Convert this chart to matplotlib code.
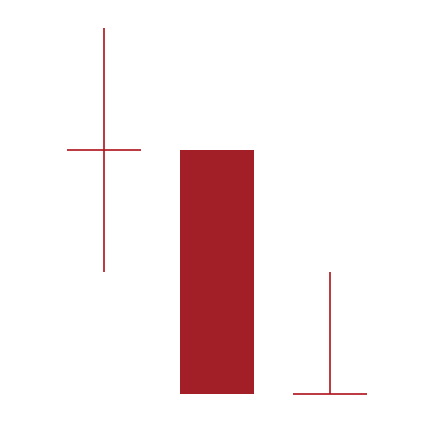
import matplotlib
matplotlib.use("Agg")
import matplotlib.pyplot as plt
from matplotlib.patches import Rectangle

# Данные свечей
positions = [1, 2, 3]
opens = [3, 3, 1]
highs = [4, 3, 2]
lows = [2, 1, 1]
closes = [3, 1, 1]

body_color = '#A31F28'
line_color = '#B0141E'
width = 0.66

fig = plt.figure(figsize=(4.34, 4.22), dpi=100)
ax = fig.add_axes([0, 0, 1, 1])

for x, o, h, l, c in zip(positions, opens, highs, lows, closes):
    # тень
    if h > max(o, c):
        ax.plot([x, x], [max(o, c), h], color=line_color, lw=1.2, solid_capstyle='butt')
    if l < min(o, c):
        ax.plot([x, x], [l, min(o, c)], color=line_color, lw=1.2, solid_capstyle='butt')
    if o == c:
        ax.plot([x - width / 2, x + width / 2], [o, c], color=line_color, lw=1.2, solid_capstyle='butt')
    else:
        ax.add_patch(Rectangle((x - width / 2, min(o, c)), width, abs(o - c),
                               facecolor=body_color, edgecolor='none'))

ax.set_xlim(1 - 104 / 113, 1 + 330 / 113)
ax.set_ylim(1 - 28 / 122, 4 + 28 / 122)
ax.axis('off')

fig.savefig('out.png', dpi=100, facecolor='white')
